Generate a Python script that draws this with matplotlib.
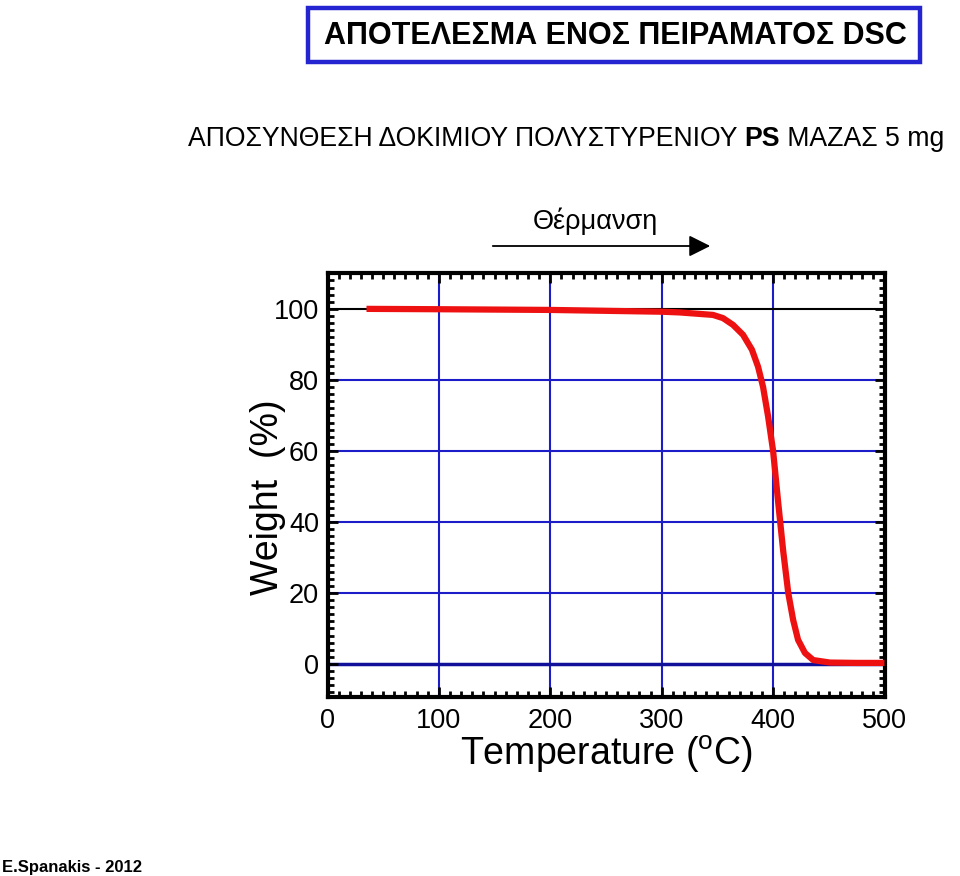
import numpy as np
import matplotlib
matplotlib.use('Agg')
import matplotlib.pyplot as plt
from matplotlib.patches import Rectangle, FancyArrowPatch
from matplotlib.ticker import MultipleLocator

plt.rcParams['font.family'] = ['Liberation Sans', 'DejaVu Sans']
plt.rcParams['mathtext.fontset'] = 'custom'
plt.rcParams['mathtext.rm'] = 'Liberation Sans'

# TGA curve of polystyrene
temp = [35, 100, 200, 300, 316, 346, 355, 364, 373, 381, 386.5, 391, 395.5, 400,
        404.4, 409, 413.6, 418, 422.4, 428.6, 436, 451, 475, 500]
weight = [100, 99.9, 99.7, 99.2, 99.0, 98.3, 97.4, 95.5, 92.7, 88.5, 83.7, 78, 69.7, 60,
          46, 32, 20, 12.4, 6.8, 3.1, 1.1, 0.4, 0.3, 0.3]

x_ticks = [0, 100, 200, 300, 400, 500]
y_ticks = [0, 20, 40, 60, 80, 100]

title = 'ΑΠΟΤΕΛΕΣΜΑ ΕΝΟΣ ΠΕΙΡΑΜΑΤΟΣ DSC'
sub_parts = [('ΑΠΟΣΥΝΘΕΣΗ ΔΟΚΙΜΙΟΥ ΠΟΛΥΣΤΥΡΕΝΙΟΥ ', 'normal'),
             ('PS', 'bold'),
             (' ΜΑΖΑΣ 5 mg', 'normal')]

W, H = 960, 876
fig = plt.figure(figsize=(W / 100, H / 100), dpi=100)

def fx(px):
    return px / W

def fy(py):
    return 1 - py / H

blue = '#1c1cc8'

# title box
fig.patches.append(Rectangle((fx(308), fy(62)), fx(920) - fx(308), fy(8) - fy(62),
                             transform=fig.transFigure, fill=False,
                             edgecolor='#2424d0', linewidth=3.2))
fig.text(fx(615), fy(36), title, ha='center', va='center', fontsize=22,
         fontweight='bold', color='black')

# subtitle in pieces so that PS can be bold
fig.canvas.draw()
renderer = fig.canvas.get_renderer()
xpos = fx(188)
for txt, wt in sub_parts:
    t = fig.text(xpos, fy(146), txt, ha='left', va='baseline', fontsize=19.2,
                 fontweight=wt)
    bb = t.get_window_extent(renderer)
    xpos = fx(bb.x1)

fig.text(fx(595), fy(221), 'Θέρμανση', ha='center', va='center', fontsize=19.5)
fig.add_artist(FancyArrowPatch(
    (fx(490), fy(246)), (fx(713), fy(246)), transform=fig.transFigure,
    arrowstyle='-|>,head_length=10,head_width=5', mutation_scale=1.3,
    color='black', linewidth=1.3))

ax = fig.add_axes([fx(327.5), fy(697), fx(884.5) - fx(327.5), fy(273) - fy(697)])
ax.set_xlim(0, 500)
ax.set_ylim(-9.3, 110.1)

for xv in x_ticks[1:-1]:
    ax.axvline(xv, color=blue, linewidth=1.5, zorder=1)
for yv in y_ticks[1:-1]:
    ax.axhline(yv, color=blue, linewidth=1.5, zorder=1)
ax.axhline(0, color='#10109a', linewidth=2.5, zorder=1)
ax.axhline(100, color='black', linewidth=1.5, zorder=1)

ax.plot(temp, weight, color='#ee1111', linewidth=4.5, solid_capstyle='butt',
        solid_joinstyle='round', zorder=3)

ax.set_xticks(x_ticks)
ax.set_yticks(y_ticks)
ax.xaxis.set_minor_locator(MultipleLocator(10))
ax.yaxis.set_minor_locator(MultipleLocator(2))
ax.tick_params(which='both', direction='in', top=True, right=True, width=2)
ax.tick_params(which='major', length=7)
ax.tick_params(which='minor', length=4)
ax.tick_params(axis='x', labelsize=19.5, pad=8)
ax.tick_params(axis='y', labelsize=19.5, pad=6)
for s in ax.spines.values():
    s.set_linewidth(3)

fig.text(fx(606), fy(754), 'Temperature ($^{\\mathrm{o}}$C)', ha='center', va='center',
         fontsize=27)
fig.text(fx(268), fy(497), 'Weight  (%)', ha='center', va='center', fontsize=27,
         rotation=90)
fig.text(fx(2), fy(872), 'E.Spanakis - 2012', ha='left', va='baseline', fontsize=12,
         fontweight='bold')

fig.savefig('out.png', dpi=100, facecolor='white')
